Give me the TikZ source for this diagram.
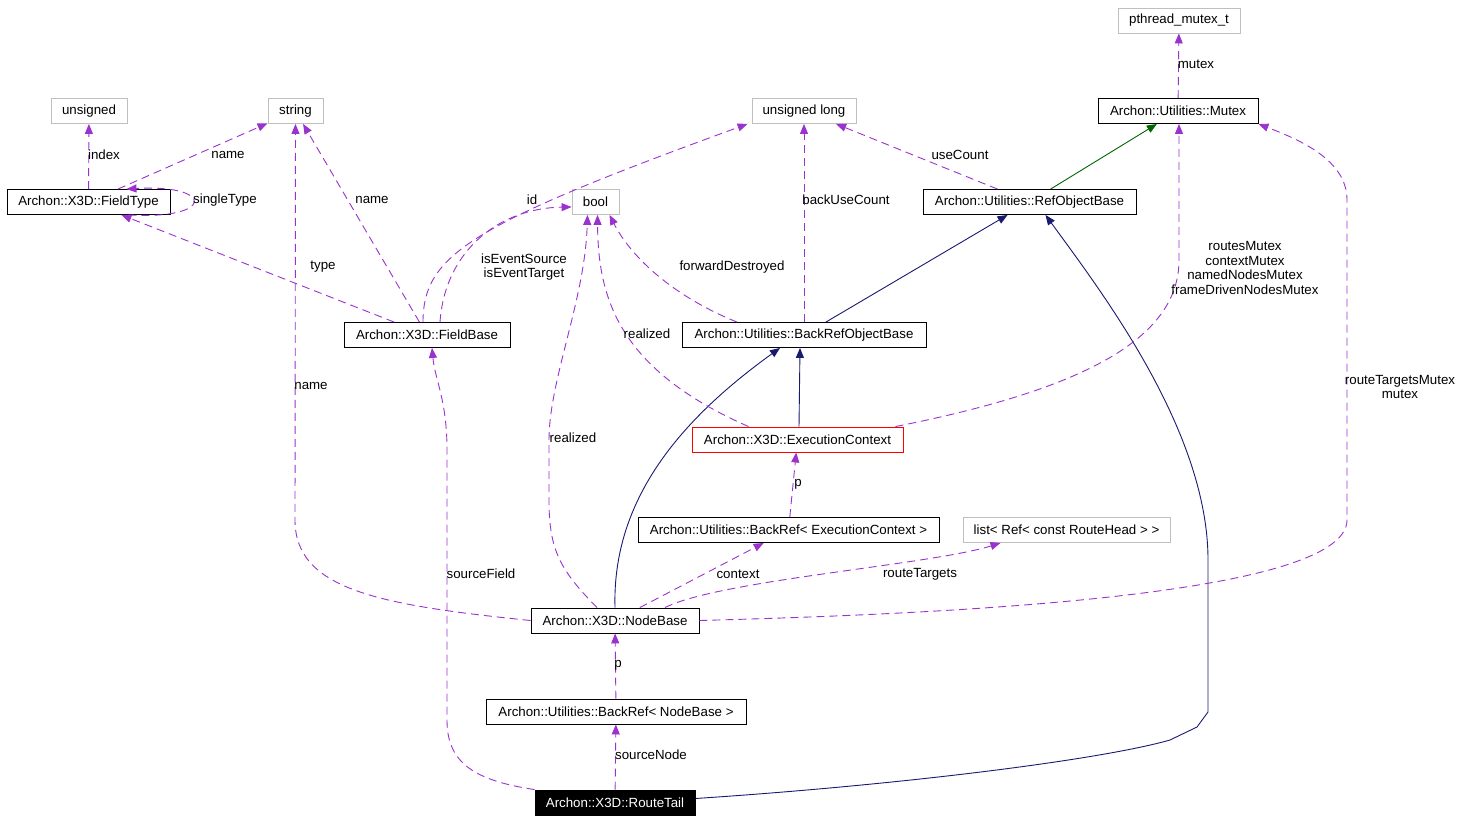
\documentclass[tikz,border=0pt]{standalone}
\usepackage{fontspec}
\setmainfont{Liberation Sans}
\usetikzlibrary{arrows.meta}
\definecolor{memcol}{HTML}{9A32CD}
\definecolor{inhcol}{HTML}{191970}
\definecolor{protcol}{HTML}{006400}
\definecolor{extgray}{HTML}{BFBFBF}

\begin{document}
\begin{tikzpicture}[
    x=1pt, y=-1pt,
    font=\fontsize{13.3}{14.7}\selectfont,
    cls/.style={draw, line width=0.9pt, minimum height=25pt, inner sep=0pt},
    ext/.style={cls, draw=extgray},
    mem/.style={draw=memcol, line width=0.9pt, dash pattern=on 8pt off 5pt, -{Triangle[length=10pt,width=8pt]}},
    inh/.style={draw=inhcol, line width=0.9pt, -{Triangle[length=10pt,width=8pt]}},
    prot/.style={draw=protcol, line width=0.9pt, -{Triangle[length=10pt,width=8pt]}},
    lbl/.style={inner sep=0pt, align=center}
]
    \useasboundingbox (0,0) rectangle (1463,821);

    % Plain types
    \node[ext, minimum width=122pt] (pth) at (1179,20.5) {pthread\_mutex\_t};
    \node[ext, minimum width=76pt] (uns) at (89,111) {unsigned};
    \node[ext, minimum width=55pt] (str) at (295.5,111) {string};
    \node[ext, minimum width=104pt] (ul) at (804,111) {unsigned long};
    \node[ext, minimum width=47pt] (bool) at (595.5,202) {bool};
    \node[ext, minimum width=207pt] (list) at (1066.5,530) {list< Ref< const RouteHead > >};

    % Classes
    \node[cls, minimum width=160pt] (mtx) at (1178,111) {Archon::Utilities::Mutex};
    \node[cls, minimum width=163pt] (ft) at (88.5,202) {Archon::X3D::FieldType};
    \node[cls, minimum width=213pt] (rob) at (1029.5,202) {Archon::Utilities::RefObjectBase};
    \node[cls, minimum width=166pt] (fb) at (427,335) {Archon::X3D::FieldBase};
    \node[cls, minimum width=244pt] (bro) at (804,335) {Archon::Utilities::BackRefObjectBase};
    \node[cls, draw=red, minimum width=211pt] (ec) at (797.5,439.5) {Archon::X3D::ExecutionContext};
    \node[cls, minimum width=301pt] (brec) at (788.5,530) {Archon::Utilities::BackRef< ExecutionContext >};
    \node[cls, minimum width=168pt] (nb) at (615,620.5) {Archon::X3D::NodeBase};
    \node[cls, minimum width=260pt] (brnb) at (616,711.5) {Archon::Utilities::BackRef< NodeBase >};
    \node[cls, fill=black, text=white, minimum width=160pt] (rt) at (615,802.5) {Archon::X3D::RouteTail};

    % Inheritance
    \draw[prot] (rob) -- (mtx);
    \draw[inh] (bro) -- (rob);
    \draw[inh] ([xshift=1.5pt]ec.north) -- ([xshift=-4pt]bro.south);
    \draw[inh] (nb.north) .. controls (612,500) and (680,420) .. ([xshift=-24pt]bro.south);
    \draw[inh] ([yshift=4pt]rt.east) .. controls (900,785) and (1100,760) .. (1170,740) -- (1197,727) -- (1208,712) -- (1208,560)
        .. controls (1208,430) and (1100,290) .. ([xshift=16pt]rob.south);

    % Members
    \draw[mem] (ft) -- (uns) node[lbl] at (104,155) {index};
    \draw[mem] (ft) -- (str) node[lbl] at (228,155) {name};
    \draw[mem] ([xshift=40pt]ft.south) .. controls (215,220) and (215,184) .. ([xshift=38pt]ft.north)
        node[lbl] at (225,200) {singleType};
    \draw[mem] (fb) -- (str) node[lbl] at (372,200) {name};
    \draw[mem] (fb) -- (ft) node[lbl] at (323,267) {type};
    \draw[mem] ([xshift=-4pt]fb.north) .. controls (423,255) and (470,225) .. ([xshift=-4pt]ul.south west)
        node[lbl] at (532,200) {id};
    \draw[mem] ([xshift=13pt]fb.north) .. controls (445,250) and (500,208) .. ([yshift=-5pt]bool.west)
        node[lbl] at (524,267) {isEventSource\\isEventTarget};
    \draw[mem] (nb.west) .. controls (380,605) and (295,590) .. (295,520) -- (str)
        node[lbl] at (311,386) {name};
    \draw[mem] ([xshift=-18pt]nb.north) .. controls (560,570) and (549,550) .. (549,500) -- (549,440)
        .. controls (549,380) and (585,300) .. ([xshift=-8pt]bool.south)
        node[lbl] at (573,438) {realized};
    \draw[mem] ([xshift=-49pt]ec.north) .. controls (620,370) and (598,300) .. ([xshift=2pt]bool.south)
        node[lbl] at (647,334) {realized};
    \draw[mem] ([xshift=-67pt]bro.north) .. controls (670,295) and (630,255) .. ([xshift=14pt]bool.south)
        node[lbl] at (732,267) {forwardDestroyed};
    \draw[mem] (bro) -- (ul) node[lbl] at (846,200) {backUseCount};
    \draw[mem] (rob) -- (ul) node[lbl] at (960,155) {useCount};
    \draw[mem] (mtx) -- (pth) node[lbl] at (1196,64) {mutex};
    \draw[mem] ([xshift=-8pt]ec.north east) .. controls (1080,390) and (1179,340) .. (1179,260) -- ([xshift=1pt]mtx.south)
        node[lbl] at (1245,268) {routesMutex\\contextMutex\\namedNodesMutex\\frameDrivenNodesMutex};
    \draw[mem] (nb.east) .. controls (900,615) and (1347,600) .. (1347,520) -- (1347,200)
        .. controls (1347,160) and (1300,140) .. (mtx.south east)
        node[lbl] at (1400,387) {routeTargetsMutex\\mutex};
    \draw[mem] (brec) -- (ec) node[lbl] at (798,484) {p};
    \draw[mem] (nb) -- (brec) node[lbl] at (738,574) {context};
    \draw[mem] ([xshift=50pt]nb.north) .. controls (720,580) and (930,565) .. ([xshift=-66pt]list.south)
        node[lbl] at (920,574) {routeTargets};
    \draw[mem] (brnb) -- (nb) node[lbl] at (618,665) {p};
    \draw[mem] (rt) -- (brnb) node[lbl] at (651,755) {sourceNode};
    \draw[mem] (rt.north west) .. controls (470,780) and (447,760) .. (447,720) -- (447,450)
        .. controls (447,400) and (435,380) .. ([xshift=5pt]fb.south)
        node[lbl] at (481,574) {sourceField};
\end{tikzpicture}
\end{document}
